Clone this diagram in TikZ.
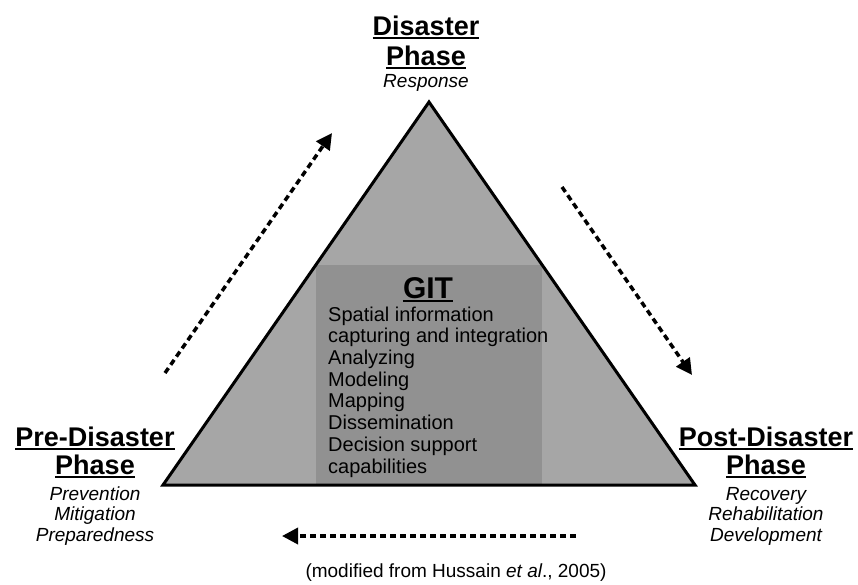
\documentclass[tikz,border=0pt]{standalone}
\usepackage{fontspec}
\setmainfont{Liberation Sans}
\usetikzlibrary{arrows.meta}
\begin{document}
\begin{tikzpicture}[x=1pt,y=-1pt,
  ttl/.style={font=\fontsize{27}{27}\selectfont\bfseries, anchor=base, inner sep=0pt},
  sub/.style={font=\fontsize{19}{19}\selectfont\itshape, anchor=base, inner sep=0pt},
  itemtxt/.style={font=\fontsize{20}{20}\selectfont, anchor=base west, inner sep=0pt},
  uline/.style={line width=2.5pt},
  flow/.style={line width=3.5pt, dash pattern=on 6pt off 4pt, -{Triangle[length=16pt,width=16pt]}}
]
\useasboundingbox (0,0) rectangle (858,584);
% triangle
\coordinate (A) at (429,102);
\coordinate (B) at (163,485);
\coordinate (C) at (695,485);
\fill[black!35] (A)--(B)--(C)--cycle;
\begin{scope}
  \clip (A)--(B)--(C)--cycle;
  \fill[black!43] (316,265) rectangle (542,485);
\end{scope}
\draw[line width=3pt, line join=miter] (A)--(B)--(C)--cycle;
% top label
\node[ttl] (d1) at (426,35) {Disaster};
\node[ttl] (d2) at (426,65) {Phase};
\node[sub] (d3) at (426,87) {Response};
\draw[uline] ([yshift=-3pt]d1.base west) -- ([yshift=-3pt]d1.base east);
\draw[uline] ([yshift=-3pt]d2.base west) -- ([yshift=-3pt]d2.base east);
% left label
\node[ttl] (p1) at (95,446) {Pre-Disaster};
\node[ttl] (p2) at (95,474) {Phase};
\node[sub] (p3) at (95,500) {Prevention};
\node[sub] (p4) at (95,520) {Mitigation};
\node[sub] (p5) at (95,541) {Preparedness};
\draw[uline] ([yshift=-3pt]p1.base west) -- ([yshift=-3pt]p1.base east);
\draw[uline] ([yshift=-3pt]p2.base west) -- ([yshift=-3pt]p2.base east);
% right label
\node[ttl] (q1) at (766,446) {Post-Disaster};
\node[ttl] (q2) at (766,474) {Phase};
\node[sub] (q3) at (766,500) {Recovery};
\node[sub] (q4) at (766,520) {Rehabilitation};
\node[sub] (q5) at (766,541) {Development};
\draw[uline] ([yshift=-3pt]q1.base west) -- ([yshift=-3pt]q1.base east);
\draw[uline] ([yshift=-3pt]q2.base west) -- ([yshift=-3pt]q2.base east);
% GIT box text
\node[font=\fontsize{30}{30}\selectfont\bfseries, anchor=base, inner sep=0pt] (g) at (428,298) {GIT};
\draw[uline] ([yshift=-3pt]g.base west) -- ([yshift=-3pt]g.base east);
\node[itemtxt] (i1) at (328,321) {Spatial information};
\node[itemtxt] (i2) at (328,342.7) {capturing and integration};
\node[itemtxt] (i3) at (328,364.4) {Analyzing};
\node[itemtxt] (i4) at (328,386) {Modeling};
\node[itemtxt] (i5) at (328,407.8) {Mapping};
\node[itemtxt] (i6) at (328,429.5) {Dissemination};
\node[itemtxt] (i7) at (328,451.2) {Decision support};
\node[itemtxt] (i8) at (328,473) {capabilities};
% arrows
\coordinate (l1) at (165,373);
\coordinate (l2) at (332,133);
\coordinate (r1) at (562,187);
\coordinate (r2) at (692,375);
\coordinate (b1) at (576,536);
\coordinate (b2) at (282,536);
\draw[flow] (l1) -- (l2);
\draw[flow] (r1) -- (r2);
\draw[flow] (b1) -- (b2);
% caption
\node[font=\fontsize{19}{19}\selectfont, anchor=base, inner sep=0pt] (cap) at (456,577) {(modified from Hussain \textit{et al}., 2005)};
\end{tikzpicture}
\end{document}
